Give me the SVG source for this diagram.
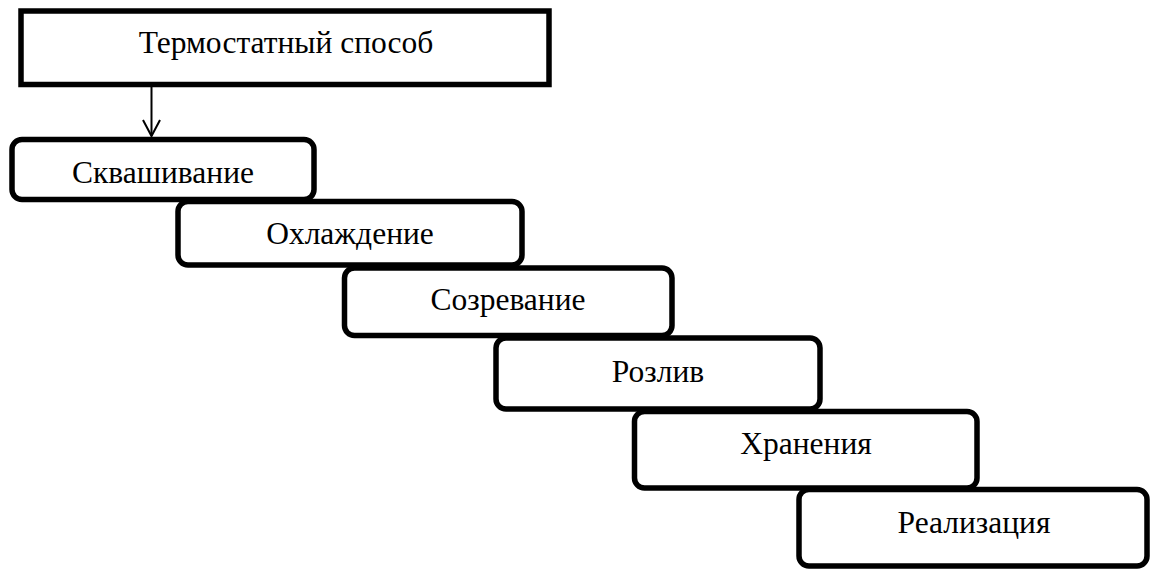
<svg xmlns="http://www.w3.org/2000/svg" width="1152" height="569" viewBox="0 0 1152 569">
<style>
.box{fill:#fff;stroke:#000;stroke-width:5.5}
.lbl{font-family:"Liberation Serif","Times New Roman",serif;font-size:31.5px;fill:#000;text-anchor:middle}
.conn{fill:none;stroke:#000;stroke-width:2}
</style>
<rect width="1152" height="569" fill="#fff"/>
<g id="node-top">
<rect class="box" x="21" y="11" width="528" height="73.5"/>
<text class="lbl" x="286" y="53">Термостатный способ</text>
</g>
<g id="node-1">
<rect class="box" x="12" y="139.5" width="302" height="60" rx="10"/>
<text class="lbl" x="163" y="183">Сквашивание</text>
</g>
<g id="node-2">
<rect class="box" x="178" y="201.5" width="344" height="63.5" rx="10"/>
<text class="lbl" x="350" y="244">Охлаждение</text>
</g>
<g id="node-3">
<rect class="box" x="344.5" y="268" width="327.5" height="67.5" rx="10"/>
<text class="lbl" x="508" y="310">Созревание</text>
</g>
<g id="node-4">
<rect class="box" x="496" y="338" width="324" height="71" rx="10"/>
<text class="lbl" x="658" y="382">Розлив</text>
</g>
<g id="node-5">
<rect class="box" x="634.5" y="411.5" width="342.5" height="76.5" rx="10"/>
<text class="lbl" x="806" y="454">Хранения</text>
</g>
<g id="node-6">
<rect class="box" x="799" y="489.5" width="348" height="76.5" rx="10"/>
<text class="lbl" x="974" y="533">Реализация</text>
</g>
<g id="connectors">
<line class="conn" x1="151.5" y1="87" x2="151.5" y2="136"/>
<polyline class="conn" points="143,120 151.5,136 160,120"/>
</g>
</svg>
